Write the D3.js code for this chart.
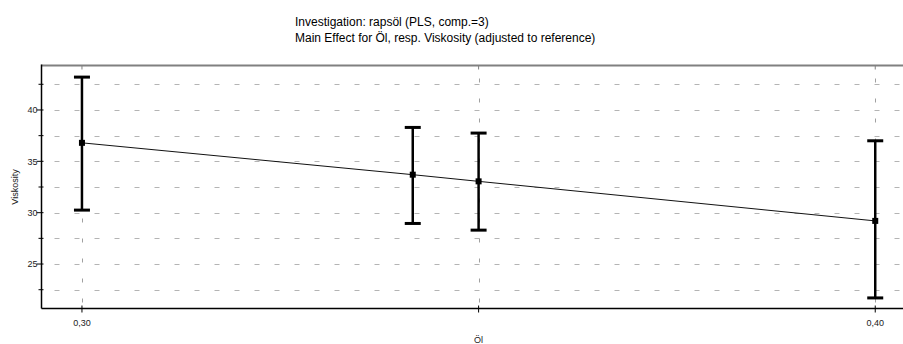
<!DOCTYPE html>
<html>
<head>
<meta charset="utf-8">
<script src="https://cdn.jsdelivr.net/npm/d3@7"></script>
<style>
  html, body { margin: 0; padding: 0; background: #fff; }
  svg { display: block; font-family: "Liberation Sans", Arial, sans-serif; }
</style>
</head>
<body>
<svg id="chart" width="903" height="344"></svg>
<script>
// Main effect of Öl on Viskosity with confidence intervals
const titleLines = [
  "Investigation: rapsöl (PLS, comp.=3)",
  "Main Effect for Öl, resp. Viskosity (adjusted to reference)"
];
const oel       = [0.30, 0.3417, 0.35, 0.40];
const viskosity = [36.8, 33.7, 33.05, 29.2];
const upper     = [43.2, 38.3, 37.75, 37.0];
const lower     = [30.25, 28.95, 28.3, 21.7];
const xTicks    = [0.30, 0.35, 0.40];
const xTickLabels = ["0,30", "", "0,40"];
const yMajor    = [25, 30, 35, 40];
const yMinor    = [22.5, 27.5, 32.5, 37.5, 42.5];
const yGrid     = [22.5, 25, 27.5, 30, 32.5, 35, 37.5, 40, 42.5];
const xLabel = "Öl";
const yLabel = "Viskosity";

const svg = d3.select("#chart");
const plotLeft = 41.5, plotRight = 903, plotTop = 65.5, plotBottom = 308.5;

const x = d3.scaleLinear().domain([0.2949, 0.4035]).range([plotLeft, plotRight]);
const y = d3.scaleLinear().domain([20.67, 44.33]).range([plotBottom, plotTop]);

// title
svg.append("g").selectAll("text").data(titleLines).join("text")
  .attr("x", 295).attr("y", (d, i) => 26 + i * 15.5)
  .attr("font-size", 12).attr("fill", "#000").text(d => d);

// grid
svg.append("g").selectAll("line").data(yGrid).join("line")
  .attr("x1", plotLeft + 1).attr("x2", plotRight)
  .attr("y1", d => Math.round(y(d)) + 0.5).attr("y2", d => Math.round(y(d)) + 0.5)
  .attr("stroke", "#b4b4b4").attr("stroke-width", 1)
  .attr("stroke-dasharray", "5,15").attr("stroke-dashoffset", -12);

svg.append("g").selectAll("line").data(xTicks).join("line")
  .attr("x1", d => Math.round(x(d)) + 0.5).attr("x2", d => Math.round(x(d)) + 0.5)
  .attr("y1", plotTop + 1).attr("y2", plotBottom)
  .attr("stroke", "#a0a0a0").attr("stroke-width", 1)
  .attr("stroke-dasharray", "4,16").attr("stroke-dashoffset", -12);

// frame: grey top border, black left and bottom axes
svg.append("line").attr("x1", plotLeft).attr("x2", plotRight).attr("y1", plotTop).attr("y2", plotTop)
  .attr("stroke", "#808080").attr("stroke-width", 2);
svg.append("line").attr("x1", plotLeft).attr("x2", plotLeft).attr("y1", plotTop - 1).attr("y2", plotBottom)
  .attr("stroke", "#000").attr("stroke-width", 1.5);
svg.append("line").attr("x1", plotLeft).attr("x2", plotRight).attr("y1", plotBottom).attr("y2", plotBottom)
  .attr("stroke", "#000").attr("stroke-width", 1.5);

// y axis ticks and labels
const yAxis = svg.append("g");
yAxis.selectAll("line.maj").data(yMajor).join("line").attr("class", "maj")
  .attr("x1", plotLeft - 5).attr("x2", plotLeft + 2)
  .attr("y1", d => y(d)).attr("y2", d => y(d))
  .attr("stroke", "#000").attr("stroke-width", 1);
yAxis.selectAll("line.min").data(yMinor).join("line").attr("class", "min")
  .attr("x1", plotLeft - 3).attr("x2", plotLeft + 2)
  .attr("y1", d => y(d)).attr("y2", d => y(d))
  .attr("stroke", "#000").attr("stroke-width", 1);
yAxis.selectAll("text").data(yMajor).join("text")
  .attr("x", plotLeft - 4).attr("y", d => y(d) + 3.2)
  .attr("text-anchor", "end").attr("font-size", 9).attr("fill", "#222")
  .text(d => d);

// x axis ticks and labels (bottom and top)
const xAxis = svg.append("g");
xAxis.selectAll("line.b").data(xTicks).join("line").attr("class", "b")
  .attr("x1", d => x(d)).attr("x2", d => x(d))
  .attr("y1", plotBottom - 3).attr("y2", plotBottom + 4)
  .attr("stroke", "#000").attr("stroke-width", 1);
xAxis.selectAll("line.t").data(xTicks).join("line").attr("class", "t")
  .attr("x1", d => x(d)).attr("x2", d => x(d))
  .attr("y1", plotTop).attr("y2", plotTop + 4)
  .attr("stroke", "#808080").attr("stroke-width", 1);
xAxis.selectAll("text").data(xTicks).join("text")
  .attr("x", d => x(d)).attr("y", plotBottom + 17.5)
  .attr("text-anchor", "middle").attr("font-size", 9).attr("fill", "#222")
  .text((d, i) => xTickLabels[i]);

// axis titles
svg.append("text").attr("x", x(0.35)).attr("y", 342.5)
  .attr("text-anchor", "middle").attr("font-size", 9).attr("fill", "#222").text(xLabel);
svg.append("text").attr("transform", `translate(18,${(plotTop + plotBottom) / 2}) rotate(-90)`)
  .attr("text-anchor", "middle").attr("font-size", 9).attr("fill", "#222").text(yLabel);

// effect line
const pts = oel.map((d, i) => [d, viskosity[i]]);
svg.append("path").datum(pts)
  .attr("d", d3.line().x(d => x(d[0])).y(d => y(d[1])))
  .attr("fill", "none").attr("stroke", "#111").attr("stroke-width", 1);

// error bars
const bars = svg.append("g").selectAll("g").data(oel).join("g");
bars.append("line")
  .attr("x1", d => x(d)).attr("x2", d => x(d))
  .attr("y1", (d, i) => y(upper[i])).attr("y2", (d, i) => y(lower[i]))
  .attr("stroke", "#000").attr("stroke-width", 2.5);
bars.append("line")
  .attr("x1", d => x(d) - 8).attr("x2", d => x(d) + 8)
  .attr("y1", (d, i) => y(upper[i])).attr("y2", (d, i) => y(upper[i]))
  .attr("stroke", "#000").attr("stroke-width", 3);
bars.append("line")
  .attr("x1", d => x(d) - 8).attr("x2", d => x(d) + 8)
  .attr("y1", (d, i) => y(lower[i])).attr("y2", (d, i) => y(lower[i]))
  .attr("stroke", "#000").attr("stroke-width", 3);
bars.append("rect")
  .attr("x", d => x(d) - 3).attr("y", (d, i) => y(viskosity[i]) - 3)
  .attr("width", 6).attr("height", 6).attr("fill", "#000");
</script>
</body>
</html>
